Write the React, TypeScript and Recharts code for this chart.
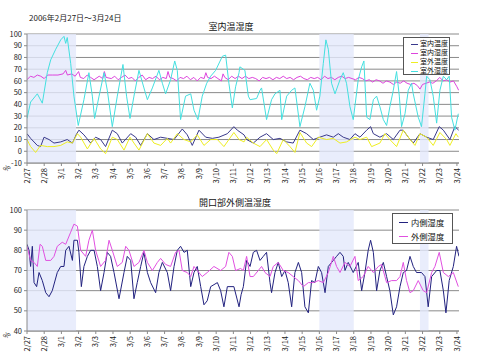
import React from 'react';
import { LineChart, Line, XAxis, YAxis, CartesianGrid, ReferenceArea } from 'recharts';

const dateLabels = ['2/27', '2/28', '3/1', '3/2', '3/3', '3/4', '3/5', '3/6', '3/7', '3/8', '3/9', '3/10', '3/11', '3/12', '3/13', '3/14', '3/15', '3/16', '3/17', '3/18', '3/19', '3/20', '3/21', '3/22', '3/23', '3/24'];
const dayTicks = dateLabels.map((_, i) => i);
const topYTicks = [-10, 0, 10, 20, 30, 40, 50, 60, 70, 80, 90, 100];
const bottomYTicks = [40, 50, 60, 70, 80, 90, 100];
const shadedPeriods: [number, number][] = [[0, 2.85], [17.0, 19.0], [22.85, 23.35]];
const dayDomain: [number, number] = [0, 25.12];

const periodTitle = '2006年2月27日～3月24日';
const topTitle = '室内温湿度';
const bottomTitle = '開口部外側温湿度';
const topSeriesNames = ['室内温度', '室内湿度', '室外温度', '室外湿度'];
const bottomSeriesNames = ['内側湿度', '外側湿度'];

// [day since 2/27, value]
const indoorTemp: [number, number][] = [
  [0, 15], [0.21, 11], [0.6, 5], [0.79, 4], [0.99, 12], [1.28, 10], [1.57, 7], [1.96, 8], [2.34, 10], [2.64, 7], [2.89, 15], [3.02, 18], [3.31, 14], [3.7, 7], [3.99, 12], [4.28, 10], [4.57, 4], [4.96, 18], [5.25, 15], [5.54, 7], [6.03, 15], [6.32, 12], [6.61, 5], [7.0, 15], [7.38, 10], [7.77, 12], [8.16, 11], [8.55, 10], [9.03, 19], [9.32, 14], [9.61, 5], [10.0, 18], [10.39, 12], [10.78, 11], [11.16, 12], [11.65, 15], [12.03, 21], [12.23, 18], [12.62, 14],
  [12.77, 10], [13.16, 7], [13.55, 12], [13.93, 15], [14.32, 10], [14.71, 11], [15.1, 8], [15.48, 7], [15.87, 18], [16.26, 15], [16.65, 10], [17.03, 12], [17.42, 14], [17.81, 12], [18.1, 15], [18.39, 12], [18.78, 10], [19.07, 15], [19.36, 12], [19.75, 18], [19.98, 21], [20.14, 15], [20.52, 12], [20.91, 15], [21.3, 10], [21.69, 18], [21.88, 18], [22.17, 12], [22.46, 7], [22.85, 15], [23.24, 12], [23.62, 10], [23.97, 21], [24.21, 18], [24.59, 10], [24.88, 21], [25.1, 18],
];

const indoorHum: [number, number][] = [
  [0, 61], [0.2, 64], [0.4, 63], [0.6, 65], [0.8, 64], [1.0, 62], [1.2, 65], [1.5, 65], [1.8, 65], [2.1, 66], [2.25, 69], [2.35, 65], [2.6, 66], [2.8, 64], [3.0, 68], [3.1, 63], [3.3, 62], [3.5, 65], [3.7, 63], [3.9, 61], [4.2, 64], [4.4, 62], [4.5, 68], [4.6, 63], [4.9, 62], [5.1, 64], [5.3, 61], [5.5, 63], [5.7, 65], [5.9, 62], [6.1, 63], [6.3, 60], [6.5, 63], [6.7, 65], [6.9, 61], [7.1, 63], [7.3, 62], [7.5, 64], [7.7, 61], [7.9, 63], [8.1, 62], [8.2, 68], [8.3, 63], [8.5, 62], [8.7, 60], [8.9, 63], [9.1, 62], [9.3, 64], [9.5, 61], [9.7, 63], [9.9, 60], [10.1, 63], [10.3, 62], [10.4, 67], [10.5, 63], [10.7, 62], [10.9, 64], [11.1, 62], [11.3, 60], [11.4, 66], [11.5, 63], [11.7, 61], [11.9, 64], [12.1, 62], [12.3, 64],
  [12.5, 62], [12.7, 64], [12.9, 62], [13.1, 63], [13.3, 62], [13.5, 60], [13.7, 63], [13.9, 62], [14.1, 63], [14.3, 61], [14.5, 63], [14.7, 62], [14.9, 64], [15.1, 62], [15.3, 63], [15.5, 61], [15.7, 63], [15.9, 64], [16.1, 62], [16.3, 61], [16.5, 63], [16.7, 62], [16.9, 63], [17.1, 61], [17.3, 64], [17.5, 62], [17.7, 63], [17.9, 61], [18.1, 63], [18.3, 64], [18.5, 62], [18.7, 63], [18.9, 62], [19.1, 61], [19.3, 63], [19.5, 62], [19.7, 60], [19.9, 61], [20.1, 59], [20.3, 61], [20.5, 60], [20.7, 58], [20.9, 60], [21.1, 59], [21.3, 57], [21.5, 59], [21.7, 58], [21.9, 60], [22.1, 58], [22.3, 57], [22.5, 58], [22.7, 56], [22.85, 53], [23.0, 57], [23.2, 58], [23.4, 59], [23.6, 58], [23.8, 60], [24.0, 63], [24.2, 60], [24.4, 61], [24.6, 59], [24.8, 60], [25.0, 55], [25.1, 52],
];

const outdoorTemp: [number, number][] = [
  [0, 10], [0.21, 4], [0.5, -1], [0.79, 5], [1.18, 4], [1.57, 4], [1.96, 5], [2.34, 8], [2.64, 7], [2.93, 15], [3.12, 12], [3.51, 2], [3.9, 11], [4.28, 2], [4.57, -2], [4.96, 12], [5.25, 10], [5.64, 1], [5.99, 12], [6.22, 7], [6.51, 1], [7.0, 15], [7.38, 7], [7.77, 5], [8.16, 11], [8.35, 7], [8.74, 15], [9.13, 10], [9.52, 8], [9.9, 14], [10.29, 5], [10.68, 10], [11.07, 10], [11.45, 4], [12.03, 16], [12.33, 10], [12.62, 8],
  [12.77, 12], [13.16, 7], [13.55, 4], [13.93, 10], [14.32, 1], [14.52, -2], [14.9, 10], [15.29, 4], [15.58, -1], [15.87, 16], [16.26, 7], [16.55, 4], [16.94, 12], [17.42, 10], [17.81, 11], [18.2, 7], [18.58, 8], [19.07, 12], [19.36, 10], [19.75, 12], [20.04, 4], [20.52, 7], [20.81, 15], [21.1, 10], [21.49, 4], [21.88, 18], [22.27, 10], [22.56, 5], [22.85, 15], [23.24, 12], [23.62, 5], [24.01, 16], [24.4, 10], [24.59, 5], [24.94, 15], [25.08, 12],
];

const outdoorHum: [number, number][] = [
  [0, 28], [0.21, 42], [0.6, 49], [0.89, 41], [1.18, 67], [1.38, 78], [1.67, 87], [1.96, 95], [2.15, 98], [2.25, 92], [2.34, 97], [2.54, 75], [2.73, 47], [2.98, 22], [3.31, 44], [3.6, 67], [3.8, 47], [3.93, 28], [4.19, 47], [4.48, 67], [4.67, 52], [4.96, 21], [5.25, 47], [5.58, 74], [5.79, 47], [5.99, 28], [6.22, 47], [6.51, 69], [6.8, 54], [7.0, 44], [7.29, 54], [7.67, 69], [7.87, 58], [8.06, 49], [8.35, 61], [8.59, 77], [8.74, 69], [8.93, 27], [9.22, 47], [9.52, 49], [9.71, 35], [9.94, 27], [10.19, 47], [10.45, 58], [10.68, 64], [10.97, 69], [11.36, 81], [11.55, 82], [11.74, 58], [11.94, 37], [12.13, 55], [12.33, 67],
  [12.38, 72], [12.67, 69], [12.87, 47], [12.97, 44], [13.35, 45], [13.55, 52], [13.64, 54], [13.93, 27], [14.22, 44], [14.42, 49], [14.71, 52], [14.81, 27], [15.1, 47], [15.39, 52], [15.58, 54], [15.87, 21], [16.16, 38], [16.45, 58], [16.65, 52], [16.84, 35], [17.03, 47], [17.23, 75], [17.38, 95], [17.52, 87], [17.71, 58], [17.91, 49], [18.2, 61], [18.39, 67], [18.58, 58], [18.78, 38], [18.97, 27], [19.26, 61], [19.46, 72], [19.59, 77], [19.75, 29], [19.94, 27], [20.14, 44], [20.33, 47], [20.52, 38], [20.72, 27], [20.91, 22], [21.1, 38], [21.3, 52], [21.49, 68], [21.65, 47], [21.78, 21], [21.98, 32], [22.17, 52], [22.36, 58], [22.46, 49], [22.75, 29], [22.94, 21], [23.14, 49], [23.24, 64], [23.43, 61], [23.62, 47], [23.82, 24], [24.01, 52], [24.21, 64], [24.4, 61], [24.55, 64], [24.69, 29], [24.88, 18], [25.08, 32],
];

const innerHum: [number, number][] = [
  [0, 83], [0.12, 80], [0.21, 72], [0.31, 82], [0.41, 64], [0.56, 62], [0.7, 69], [0.89, 65], [1.09, 59], [1.28, 57], [1.47, 60], [1.76, 69], [1.96, 72], [2.15, 72], [2.25, 80], [2.44, 82], [2.64, 75], [2.73, 85], [2.93, 85], [3.02, 79], [3.16, 62], [3.31, 72], [3.51, 77], [3.7, 80], [3.9, 80], [4.09, 72], [4.28, 60], [4.48, 69], [4.67, 79], [4.86, 77], [5.06, 69], [5.35, 56], [5.64, 69], [5.83, 77], [6.03, 75], [6.22, 56], [6.41, 64], [6.61, 72], [6.8, 79], [7.0, 69], [7.19, 64], [7.48, 59], [7.67, 69], [7.87, 74], [8.16, 69], [8.35, 60], [8.55, 72], [8.74, 80], [8.93, 82], [9.13, 79], [9.32, 80], [9.52, 62], [9.71, 69], [9.9, 72], [10.1, 62], [10.29, 53], [10.48, 55], [10.68, 62], [11.07, 64], [11.26, 60], [11.45, 52], [11.65, 62], [12.03, 62], [12.33, 52], [12.45, 58], [12.58, 62],
  [12.77, 75], [12.97, 72], [13.16, 79], [13.35, 80], [13.55, 75], [13.74, 77], [13.93, 79], [14.13, 64], [14.22, 59], [14.42, 69], [14.61, 74], [14.81, 67], [15.0, 70], [15.19, 64], [15.39, 52], [15.58, 69], [15.78, 74], [15.97, 69], [16.16, 52], [16.36, 49], [16.55, 65], [16.74, 64], [16.94, 72], [17.13, 69], [17.33, 59], [17.52, 72], [17.81, 75], [18.0, 77], [18.2, 79], [18.39, 77], [18.49, 70], [18.68, 74], [18.97, 69], [19.26, 74], [19.46, 60], [19.65, 69], [19.84, 80], [19.98, 85], [20.14, 79], [20.33, 60], [20.52, 70], [20.72, 74], [20.91, 67], [21.1, 60], [21.3, 48], [21.49, 52], [21.69, 62], [21.88, 69], [22.07, 70], [22.27, 77], [22.46, 72], [22.65, 69], [22.94, 69], [23.14, 67], [23.33, 52], [23.53, 67], [23.82, 70], [24.01, 70], [24.21, 60], [24.36, 49], [24.55, 65], [24.79, 72], [24.98, 82], [25.12, 77],
];

const outerHum: [number, number][] = [
  [0, 82], [0.21, 75], [0.41, 74], [0.6, 72], [0.76, 83], [0.89, 82], [1.09, 75], [1.38, 75], [1.57, 77], [1.76, 82], [2.05, 84], [2.25, 83], [2.54, 89], [2.73, 93], [2.93, 92], [3.12, 80], [3.41, 77], [3.6, 85], [3.8, 90], [3.99, 80], [4.28, 72], [4.57, 75], [4.77, 85], [4.96, 80], [5.25, 72], [5.54, 74], [5.74, 82], [5.93, 80], [6.22, 72], [6.51, 74], [6.8, 80], [7.0, 74], [7.29, 70], [7.58, 74], [7.77, 76], [8.06, 73], [8.35, 72], [8.64, 79], [8.84, 80], [9.03, 70], [9.32, 69], [9.52, 67], [9.71, 72], [9.9, 70], [10.19, 67], [10.48, 69], [10.87, 72], [11.26, 70], [11.55, 72], [11.74, 79], [11.94, 77], [12.13, 70], [12.42, 71],
  [12.58, 70], [12.77, 77], [12.97, 67], [13.16, 67], [13.45, 70], [13.64, 72], [13.84, 69], [14.13, 67], [14.32, 72], [14.61, 74], [14.9, 70], [15.19, 69], [15.48, 67], [15.78, 65], [16.07, 62], [16.36, 64], [16.65, 64], [16.94, 65], [17.23, 64], [17.52, 69], [17.81, 77], [18.0, 72], [18.2, 69], [18.49, 74], [18.78, 72], [19.07, 77], [19.26, 65], [19.55, 67], [19.84, 72], [20.14, 69], [20.43, 72], [20.62, 73], [20.91, 64], [21.2, 65], [21.49, 65], [21.69, 67], [21.88, 74], [22.07, 65], [22.27, 59], [22.46, 60], [22.75, 65], [23.04, 60], [23.24, 59], [23.53, 69], [23.72, 72], [23.97, 79], [24.21, 69], [24.5, 67], [24.79, 69], [25.08, 62],
];

const topColors = ['#3a3a8c', '#dd44dd', '#eeee22', '#44e0e0'];
const bottomColors = ['#22227f', '#e050e0'];
const topSeries = [indoorTemp, indoorHum, outdoorTemp, outdoorHum];
const bottomSeries = [innerHum, outerHum];

const FONT = "'Noto Sans CJK JP', 'DejaVu Sans', sans-serif";
const GRID = '#8a8a8a';
const SHADE = '#e3e9fb';

const toRows = (pts: [number, number][]) => pts.map(([t, v]) => ({ t, v }));

const DateTick = (props: any) => {
  const { x, y, payload } = props;
  return (
    <text x={0} y={0} transform={`translate(${x},${y}) rotate(-90)`} textAnchor="end" dy="0.35em" fontSize={7.5} fill="#222" fontFamily={FONT}>
      {dateLabels[payload.value]}
    </text>
  );
};

const LegendBox = ({ names, colors, left, top, width, height, rowH, fontSize, lineW, lineX, textX }: any) => (
  <div style={{ position: 'absolute', left, top, width, height, border: '1px solid #555', background: '#fff', boxSizing: 'border-box' }}>
    {names.map((n: string, i: number) => (
      <div key={n} style={{ position: 'absolute', left: 0, top: 1 + i * rowH, height: rowH, width: '100%' }}>
        <div style={{ position: 'absolute', left: lineX, top: rowH / 2, width: lineW, height: 1, background: colors[i] }} />
        <div style={{ position: 'absolute', left: textX, top: 0, fontSize, lineHeight: `${rowH}px`, whiteSpace: 'nowrap', color: '#111' }}>{n}</div>
      </div>
    ))}
  </div>
);

const renderShades = () =>
  shadedPeriods.map(([a, b], i) => (
    <ReferenceArea key={`s${i}`} x1={a} x2={b} fill={SHADE} fillOpacity={0.8} stroke="none" ifOverflow="hidden" />
  ));

export default function App() {
  return (
    <div style={{ position: 'absolute', left: 0, top: 0, width: 480, height: 360, background: '#fff', fontFamily: FONT, overflow: 'hidden' }}>
      <div style={{ position: 'absolute', left: 29, top: 12, fontSize: 8, lineHeight: '12px', color: '#222' }}>{periodTitle}</div>
      <div style={{ position: 'absolute', left: 181, width: 100, textAlign: 'center', top: 21, fontSize: 9, lineHeight: '12px', color: '#111' }}>{topTitle}</div>
      <div style={{ position: 'absolute', left: 185, width: 100, textAlign: 'center', top: 197, fontSize: 9, lineHeight: '12px', color: '#111' }}>{bottomTitle}</div>

      <div style={{ position: 'absolute', left: 0, top: 0 }}>
        <LineChart width={480} height={200} margin={{ top: 34, right: 21, left: 0, bottom: 0 }}>
          <CartesianGrid vertical={false} stroke={GRID} />
          {renderShades()}
          <XAxis dataKey="t" type="number" domain={dayDomain} ticks={dayTicks} allowDataOverflow interval={0} height={37} tickSize={3} tickMargin={2} stroke={GRID} tick={<DateTick />} />
          <YAxis type="number" domain={[-10, 100]} ticks={topYTicks} width={27} tickSize={3} tickMargin={2} stroke={GRID} interval={0} tick={{ fontSize: 7.5, fill: '#222', fontFamily: FONT }} />
          <ReferenceArea fill="none" stroke={GRID} />
          {topSeries.map((s, i) => (
            <Line key={topSeriesNames[i]} name={topSeriesNames[i]} data={toRows(s)} dataKey="v" type="linear" dot={false} stroke={topColors[i]} strokeWidth={1} isAnimationActive={false} />
          ))}
        </LineChart>
      </div>

      <div style={{ position: 'absolute', left: 0, top: 200 }}>
        <LineChart width={480} height={160} margin={{ top: 10, right: 21, left: 0, bottom: 0 }}>
          <CartesianGrid vertical={false} stroke={GRID} />
          {renderShades()}
          <XAxis dataKey="t" type="number" domain={dayDomain} ticks={dayTicks} allowDataOverflow interval={0} height={29} tickSize={3} tickMargin={2} stroke={GRID} tick={<DateTick />} />
          <YAxis type="number" domain={[40, 100]} ticks={bottomYTicks} width={27} tickSize={3} tickMargin={2} stroke={GRID} interval={0} tick={{ fontSize: 7.5, fill: '#222', fontFamily: FONT }} />
          <ReferenceArea fill="none" stroke={GRID} />
          {bottomSeries.map((s, i) => (
            <Line key={bottomSeriesNames[i]} name={bottomSeriesNames[i]} data={toRows(s)} dataKey="v" type="linear" dot={false} stroke={bottomColors[i]} strokeWidth={1} isAnimationActive={false} />
          ))}
        </LineChart>
      </div>

      <LegendBox names={topSeriesNames} colors={topColors} left={403} top={37} width={47} height={38} rowH={9} fontSize={7} lineW={7} lineX={7} textX={16} />
      <LegendBox names={bottomSeriesNames} colors={bottomColors} left={392} top={213} width={61} height={31} rowH={14} fontSize={8.3} lineW={9} lineX={6} textX={18} />

      <div style={{ position: 'absolute', left: 3, top: 163, fontSize: 7.5, lineHeight: '10px', transform: 'rotate(-45deg)', color: '#222' }}>%</div>
      <div style={{ position: 'absolute', left: 3, top: 330, fontSize: 7.5, lineHeight: '10px', transform: 'rotate(-45deg)', color: '#222' }}>%</div>
    </div>
  );
}
